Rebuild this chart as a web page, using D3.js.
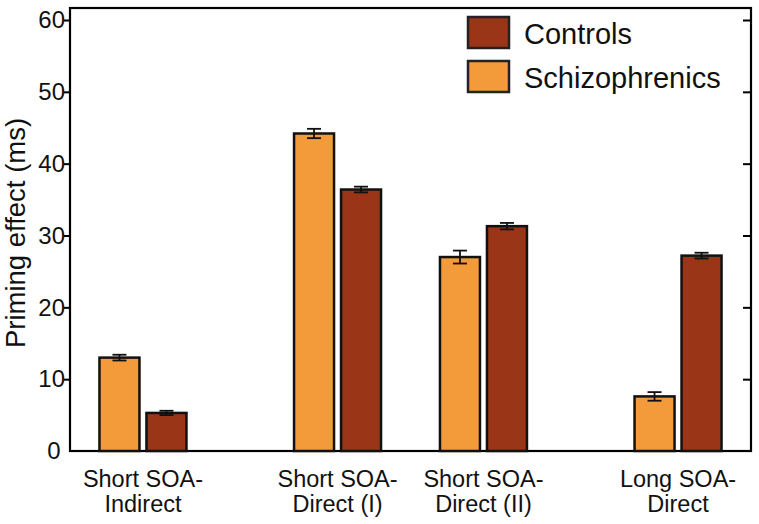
<!DOCTYPE html>
<html>
<head>
<meta charset="utf-8">
<script src="https://cdn.jsdelivr.net/npm/d3@7"></script>
<style>
  body { margin: 0; background: #fff; }
  text { font-family: "Liberation Sans", Arial, sans-serif; fill: #111; }
</style>
</head>
<body>
<svg id="chart" width="759" height="524"></svg>
<script>
// ---- data ----
const categories = [["Short SOA-", "Indirect"], ["Short SOA-", "Direct (I)"], ["Short SOA-", "Direct (II)"], ["Long SOA-", "Direct"]];
const categoryPositions = [0, 4, 7, 11];
const schizophrenics = [13.0, 44.2, 27.0, 7.6];
const schizophrenicsErr = [0.4, 0.65, 0.9, 0.6];
const controls = [5.3, 36.4, 31.3, 27.2];
const controlsErr = [0.3, 0.4, 0.45, 0.4];
const yTicks = [0, 10, 20, 30, 40, 50, 60];
const seriesNames = ["Controls", "Schizophrenics"];

const colSchizo = "#F39A3B";
const colCtrl = "#9B3517";

const svg = d3.select("#chart");
const pLeft = 70, pRight = 751, pTop = 8, pBottom = 451;

const x = d3.scaleLinear().domain([-1.5, 12.5]).range([pLeft, pRight]);
const y = d3.scaleLinear().domain([0, 60]).range([pBottom, 20]);

const barW = 40, gap = 7;

// frame
svg.append("rect").attr("x", pLeft).attr("y", pTop).attr("width", pRight - pLeft).attr("height", pBottom - pTop)
  .attr("fill", "none").attr("stroke", "#000").attr("stroke-width", 2.2);

// left axis
const yAxisL = d3.axisLeft(y).tickValues(yTicks.filter(d => d > 0)).tickSize(6).tickFormat(d3.format("d"));
const gL = svg.append("g").attr("transform", `translate(${pLeft},0)`).call(yAxisL);
gL.select(".domain").remove();
gL.selectAll(".tick line").attr("stroke", "#000").attr("stroke-width", 2);
gL.selectAll(".tick text").attr("font-size", 24).attr("x", -5).style("fill", "#111").style("font-family", "Liberation Sans, Arial, sans-serif");
// zero label
svg.append("text").attr("x", 54).attr("y", y(0)).attr("dy", "0.35em").attr("text-anchor", "middle")
  .attr("font-size", 24).text(yTicks[0]);

// right axis (inward ticks)
const yAxisR = d3.axisRight(y).tickValues(yTicks.filter(d => d > 0)).tickSize(-8).tickFormat("");
const gR = svg.append("g").attr("transform", `translate(${pRight},0)`).call(yAxisR);
gR.select(".domain").remove();
gR.selectAll(".tick line").attr("stroke", "#000").attr("stroke-width", 2);

// bars
const rows = categories.map((c, i) => ({ i, pos: categoryPositions[i] }));
function drawSeries(vals, errs, color, offset) {
  const g = svg.append("g");
  g.selectAll("rect").data(rows).join("rect")
    .attr("x", d => x(d.pos) + offset)
    .attr("y", d => y(vals[d.i]))
    .attr("width", barW)
    .attr("height", d => y(0) - y(vals[d.i]))
    .attr("fill", color).attr("stroke", "#111").attr("stroke-width", 2.5);
  const e = svg.append("g").attr("stroke", "#111").attr("stroke-width", 1.8);
  rows.forEach(d => {
    const cx = x(d.pos) + offset + barW / 2;
    const hi = y(vals[d.i] + errs[d.i]), lo = y(vals[d.i] - errs[d.i]);
    e.append("line").attr("x1", cx).attr("x2", cx).attr("y1", hi).attr("y2", lo);
    e.append("line").attr("x1", cx - 7).attr("x2", cx + 7).attr("y1", hi).attr("y2", hi);
    e.append("line").attr("x1", cx - 7).attr("x2", cx + 7).attr("y1", lo).attr("y2", lo);
  });
}
drawSeries(schizophrenics, schizophrenicsErr, colSchizo, -barW - gap / 2);
drawSeries(controls, controlsErr, colCtrl, gap / 2);

// x labels
rows.forEach(d => {
  const t = svg.append("text").attr("x", x(d.pos)).attr("text-anchor", "middle").attr("font-size", 23.5);
  t.append("tspan").attr("x", x(d.pos)).attr("y", 487).text(categories[d.i][0]);
  t.append("tspan").attr("x", x(d.pos)).attr("y", 512).text(categories[d.i][1]);
});

// y label
svg.append("text").attr("transform", `translate(25,233) rotate(-90)`).attr("text-anchor", "middle")
  .attr("font-size", 27.5).text("Priming effect (ms)");

// legend
const legColors = [colCtrl, colSchizo];
seriesNames.forEach((n, i) => {
  const yy = 17 + i * 44;
  svg.append("rect").attr("x", 468).attr("y", yy).attr("width", 41).attr("height", 31)
    .attr("fill", legColors[i]).attr("stroke", "#222").attr("stroke-width", 2.5);
  svg.append("text").attr("x", 524).attr("y", yy + 27).attr("font-size", 29).text(n);
});
</script>
</body>
</html>
